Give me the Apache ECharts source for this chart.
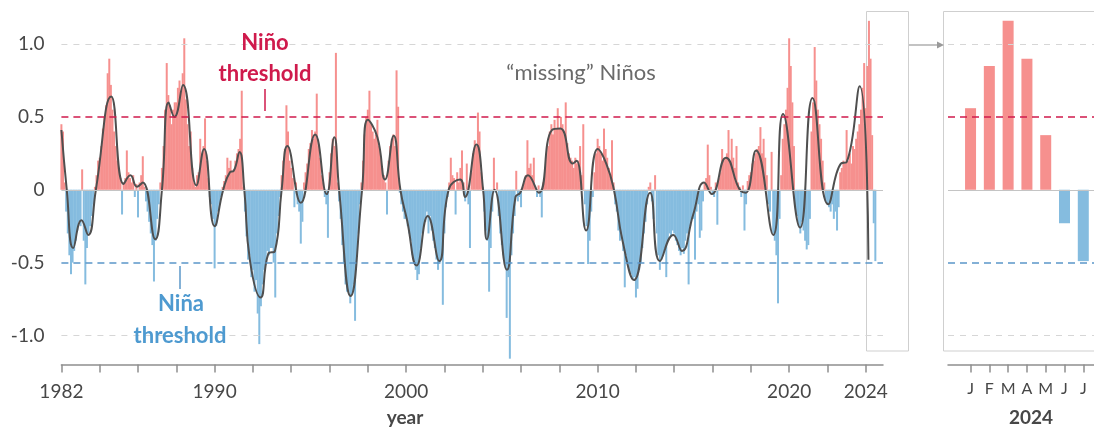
<!DOCTYPE html>
<html><head><meta charset="utf-8">
<script src="https://cdn.jsdelivr.net/npm/echarts@6/dist/echarts.min.js"></script>
<style>html,body{margin:0;padding:0;background:#fff}#c{width:1094px;height:428px}</style>
</head><body><div id="c"></div>
<script>
// ---- data ----
const firstYear = 1982;
// monthly index values, one row per year (Jan..Dec)
const monthlyValues = [
  [0.45, 0.40, 0.05, -0.15, -0.30, -0.45, -0.58, -0.50, -0.42, -0.35, -0.28, -0.22], // 1982
  [-0.25, 0.14, -0.35, -0.65, -0.40, -0.30, -0.25, -0.18, -0.10, 0.02, 0.10, 0.20],  // 1983
  [0.22, 0.30, 0.42, 0.50, 0.58, 0.80, 0.90, 0.72, 0.55, 0.40, 0.30, 0.20],          // 1984
  [0.15, 0.08, -0.17, 0.05, 0.08, 0.27, 0.12, 0.08, 0.05, 0.10, -0.05, 0.04],        // 1985
  [-0.19, 0.05, 0.10, 0.23, 0.02, -0.08, -0.15, -0.22, -0.30, -0.38, -0.63, -0.35],  // 1986
  [-0.20, -0.10, 0.05, 0.15, 0.30, 0.55, 0.87, 0.65, 0.58, 0.45, 0.55, 0.60],        // 1987
  [0.60, 0.70, 0.75, 0.68, 0.80, 1.04, 0.62, 0.45, 0.30, 0.40, 0.15, 0.05],          // 1988
  [0.02, 0.10, 0.12, 0.35, 0.25, 0.30, 0.49, 0.20, 0.08, -0.05, -0.10, -0.20],       // 1989
  [-0.54, -0.25, -0.15, -0.10, -0.05, 0.02, 0.06, 0.10, 0.22, 0.15, 0.20, 0.13],     // 1990
  [0.14, 0.20, 0.25, 0.28, 0.35, 0.68, 0.02, -0.15, -0.32, -0.48, -0.45, -0.60],     // 1991
  [-0.55, -0.70, -0.62, -0.85, -1.06, -0.80, -0.65, -0.55, -0.50, -0.42, -0.45, -0.40], // 1992
  [-0.40, -0.50, -0.74, -0.30, -0.18, -0.05, 0.10, 0.20, 0.28, 0.58, 0.40, 0.20],    // 1993
  [0.15, 0.08, -0.12, 0.05, -0.10, -0.15, -0.37, -0.22, 0.05, 0.12, 0.18, 0.28],     // 1994
  [0.32, 0.41, 0.35, 0.40, 0.66, 0.30, 0.22, 0.10, 0.05, -0.05, -0.10, -0.33],       // 1995
  [0.12, 0.25, 0.35, 0.30, 0.94, 0.05, -0.08, -0.20, -0.38, -0.50, -0.65, -0.70],    // 1996
  [-0.70, -0.78, -0.72, -0.65, -0.90, -0.45, -0.30, -0.10, 0.05, 0.20, 0.38, 0.50],  // 1997
  [0.55, 0.68, 0.45, 0.40, 0.35, 0.38, 0.48, 0.30, 0.22, 0.15, 0.10, 0.05],          // 1998
  [-0.17, 0.20, 0.30, 0.35, 0.38, 0.30, 0.82, 0.57, -0.02, -0.10, -0.15, -0.20],     // 1999
  [-0.20, -0.25, -0.30, -0.35, -0.45, -0.50, -0.55, -0.62, -0.58, -0.40, -0.30, -0.25], // 2000
  [-0.22, -0.15, -0.30, -0.18, -0.28, -0.35, -0.40, -0.48, -0.55, -0.50, -0.48, -0.79], // 2001
  [-0.30, -0.12, -0.05, 0.05, 0.22, 0.10, 0.08, -0.17, 0.12, 0.05, 0.15, 0.27],      // 2002
  [0.05, -0.08, 0.18, -0.10, -0.40, 0.12, 0.25, 0.34, 0.30, 0.53, 0.40, 0.12],       // 2003
  [0.02, -0.15, -0.28, -0.35, -0.70, -0.40, -0.15, 0.22, -0.02, 0.05, -0.18, -0.30], // 2004
  [-0.38, -0.45, -0.52, -0.88, -0.60, -1.16, -0.45, -0.30, -0.18, 0.13, -0.08, -0.05], // 2005
  [-0.12, 0.02, 0.05, 0.10, 0.34, 0.15, 0.18, 0.10, 0.22, 0.02, -0.05, 0.03],        // 2006
  [-0.05, -0.19, 0.05, 0.15, 0.25, 0.30, 0.40, 0.45, 0.38, 0.48, 0.42, 0.56],        // 2007
  [0.42, 0.50, 0.45, 0.38, 0.60, 0.32, 0.25, 0.22, 0.20, 0.15, 0.22, 0.18],          // 2008
  [0.20, 0.30, 0.10, 0.45, -0.10, -0.25, -0.51, -0.35, -0.15, -0.05, 0.12, 0.25],    // 2009
  [0.35, 0.30, 0.25, 0.20, 0.42, 0.28, 0.22, 0.15, 0.10, 0.34, 0.05, -0.10],         // 2010
  [-0.15, -0.28, -0.35, -0.30, -0.42, -0.67, -0.45, -0.50, -0.55, -0.58, -0.62, -0.60], // 2011
  [-0.74, -0.68, -0.55, -0.50, -0.40, -0.30, -0.22, -0.10, 0.02, 0.05, -0.08, -0.20], // 2012
  [0.10, -0.30, -0.45, -0.55, -0.48, -0.45, -0.40, -0.60, -0.35, -0.30, -0.32, -0.28], // 2013
  [-0.30, -0.35, -0.38, -0.42, -0.45, -0.40, -0.44, -0.35, -0.30, -0.65, -0.25, -0.20], // 2014
  [-0.20, -0.48, -0.15, -0.10, -0.33, -0.28, -0.08, 0.05, 0.08, 0.31, 0.10, 0.02],   // 2015
  [-0.03, -0.05, 0.05, -0.24, 0.08, 0.12, 0.28, 0.20, 0.22, 0.25, 0.41, 0.18],       // 2016
  [0.35, 0.22, 0.15, 0.30, 0.05, 0.02, -0.05, 0.03, -0.28, -0.10, 0.06, 0.10],       // 2017
  [0.12, 0.18, 0.20, 0.25, 0.28, 0.30, 0.43, 0.25, 0.35, 0.22, 0.10, -0.10],         // 2018
  [-0.15, 0.26, -0.30, -0.35, -0.45, -0.78, -0.20, 0.10, 0.35, 0.45, 0.55, 0.70],    // 2019
  [1.04, 0.85, 0.60, 0.30, -0.12, -0.18, -0.25, -0.30, -0.22, -0.28, -0.35, -0.41],  // 2020
  [-0.38, -0.20, 0.40, 0.60, 0.98, 0.75, 0.55, 0.45, 0.35, 0.20, 0.05, -0.08],       // 2021
  [-0.10, -0.12, -0.15, -0.10, -0.20, -0.15, -0.28, -0.12, 0.12, 0.15, 0.20, 0.18],  // 2022
  [0.41, 0.20, 0.25, 0.18, 0.30, 0.28, 0.35, 0.40, 0.45, 0.55, 0.70, 0.87],          // 2023
  [0.56, 0.85, 1.16, 0.90, 0.375, -0.23, -0.49]                                       // 2024
];
// smoothed index: [decimal year, value]
const smoothLine = [
  [1982.0,0.41],[1982.28,0.0],[1982.62,-0.40],[1983.05,-0.21],[1983.4,-0.31],[1983.8,0.0],
  [1984.6,0.64],[1985.25,0.04],[1985.6,0.10],[1985.95,0.02],[1986.25,0.05],[1986.9,-0.34],
  [1987.25,0.0],[1987.6,0.60],[1987.9,0.50],[1988.35,0.72],[1989.05,0.03],[1989.45,0.28],
  [1990.0,-0.25],[1990.45,0.0],[1990.8,0.12],[1991.0,0.13],[1991.3,0.26],[1991.55,0.0],
  [1991.85,-0.49],[1992.4,-0.74],[1992.8,-0.44],[1993.15,-0.42],[1993.5,0.0],[1993.8,0.30],
  [1994.5,-0.09],[1995.25,0.38],[1995.85,-0.03],[1996.25,0.36],[1996.5,0.0],[1997.1,-0.73],
  [1997.7,0.0],[1998.0,0.48],[1998.5,0.36],[1998.9,0.07],[1999.35,0.37],[1999.7,0.0],
  [2000.05,-0.21],[2000.55,-0.52],[2001.13,-0.18],[2001.73,-0.49],[2002.22,0.0],[2002.82,0.07],
  [2003.07,-0.05],[2003.67,0.31],[2004.02,0.0],[2004.22,-0.34],[2004.62,0.0],[2005.26,-0.55],
  [2005.71,-0.05],[2005.96,-0.02],[2006.36,0.10],[2006.93,-0.02],[2007.61,0.41],[2008.05,0.42],
  [2008.7,0.18],[2008.9,0.20],[2009.4,-0.28],[2010.0,0.28],[2010.45,0.18],[2010.85,0.0],
  [2011.3,-0.35],[2011.9,-0.62],[2012.74,-0.02],[2013.25,-0.49],[2013.95,-0.31],[2014.4,-0.42],
  [2014.99,-0.17],[2015.56,0.05],[2015.96,-0.03],[2016.7,0.22],[2017.48,-0.01],[2017.74,-0.02],
  [2018.27,0.27],[2019.17,-0.31],[2019.68,0.52],[2020.57,-0.26],[2021.22,0.63],[2022.04,-0.10],
  [2022.7,0.18],[2023.0,0.19],[2023.68,0.71],[2024.14,-0.48]
];
const tickYears = [1982,1984,1986,1988,1990,1992,1994,1996,1998,2000,2002,2004,2006,2008,2010,2012,2014,2016,2018,2020,2022,2024];
const labelYears = [1982,1990,2000,2010,2020,2024];
const yLabelValues = [-1, -0.5, 0, 0.5, 1];
const monthLetters = ['J','F','M','A','M','J','J','A','S','O','N','D'];
const monthNumbers = [1,2,3,4,5,6,7];
const insetYear = 2024;

// ---- styling ----
const FONT = 'Lato, "Open Sans", sans-serif';
const PINK = '#f6908e', BLUE = '#85bcdf';
const RED = '#cf1a4c', NBLUE = '#5b97c9';
const AXIS = '#8f8f8f', TXT = '#474747';

const mainBars = monthlyValues.flatMap((row, i) => row.map((v, m) => [firstYear + i + m / 12, v]));
const insetBars = monthlyValues[insetYear - firstYear].map((v, m) => [m + 1, v]);

function guideLines() {
  return {
    silent: true, symbol: 'none', label: { show: false }, animation: false,
    data: [
      { yAxis: 1, lineStyle: { color: '#d6d6d6', type: [6, 6], width: 1 } },
      { yAxis: 0.5, lineStyle: { color: RED, type: [7, 5], width: 1.6 } },
      { yAxis: 0, lineStyle: { color: '#c4c4c4', type: 'solid', width: 1 } },
      { yAxis: -0.5, lineStyle: { color: NBLUE, type: [7, 5], width: 1.6 } },
      { yAxis: -1, lineStyle: { color: '#d6d6d6', type: [6, 6], width: 1 } }
    ]
  };
}
const barColor = p => (p.value[1] >= 0 ? PINK : BLUE);

const chart = echarts.init(document.getElementById('c'), null, { renderer: 'canvas' });
chart.setOption({
  animation: false,
  backgroundColor: '#fff',
  grid: [
    { left: 61.4, width: 821.6, top: 15, height: 349.5 },
    { left: 948, right: 0, top: 15, height: 349.5 }
  ],
  xAxis: [
    {
      type: 'value', gridIndex: 0, min: 1982, max: 2024.9,
      axisLine: { show: true, onZero: false, lineStyle: { color: AXIS, width: 1.5 } },
      axisTick: { show: true, length: 8, customValues: tickYears, lineStyle: { color: AXIS, width: 1.5 } },
      axisLabel: { customValues: labelYears, margin: 18, fontSize: 19, color: TXT, fontFamily: FONT, formatter: v => String(v) },
      splitLine: { show: false }
    },
    {
      type: 'value', gridIndex: 1, min: -0.2, max: 7.57,
      axisLine: { show: true, onZero: false, lineStyle: { color: AXIS, width: 1.5 } },
      axisTick: { show: true, length: 8, customValues: monthNumbers, lineStyle: { color: AXIS, width: 1.5 } },
      axisLabel: { customValues: monthNumbers, margin: 16, fontSize: 16, color: TXT, fontFamily: FONT,
        formatter: v => monthLetters[Math.round(v) - 1] || '' },
      splitLine: { show: false }
    }
  ],
  yAxis: [
    {
      type: 'value', gridIndex: 0, min: -1.2, max: 1.2,
      axisLine: { show: false }, axisTick: { show: false }, splitLine: { show: false },
      axisLabel: { customValues: yLabelValues, margin: 17, fontSize: 19, color: TXT, fontFamily: FONT,
        formatter: v => (v === 0 ? '0' : v.toFixed(1)) }
    },
    {
      type: 'value', gridIndex: 1, min: -1.2, max: 1.2, show: false,
      splitLine: { show: false }
    }
  ],
  series: [
    {
      type: 'bar', xAxisIndex: 0, yAxisIndex: 0, data: mainBars, barWidth: 2,
      itemStyle: { color: barColor }, markLine: guideLines(), z: 2
    },
    {
      type: 'line', xAxisIndex: 0, yAxisIndex: 0, data: smoothLine, smooth: 0.5,
      showSymbol: false, symbol: 'none', lineStyle: { color: '#4f4f4f', width: 2 }, z: 4
    },
    {
      type: 'bar', xAxisIndex: 1, yAxisIndex: 1, data: insetBars, barWidth: 11,
      itemStyle: { color: barColor }, markLine: guideLines(), z: 2
    }
  ],
  graphic: [
    { type: 'rect', z: 1, shape: { x: 866.5, y: 11.5, width: 42, height: 339.5 }, style: { fill: 'none', stroke: '#cfcfcf', lineWidth: 1 } },
    { type: 'rect', z: 1, shape: { x: 943.5, y: 11.5, width: 200, height: 339.5 }, style: { fill: 'none', stroke: '#cfcfcf', lineWidth: 1 } },
    { type: 'line', z: 10, shape: { x1: 909, y1: 45, x2: 938, y2: 45 }, style: { stroke: '#9a9a9a', lineWidth: 1.2 } },
    { type: 'polygon', z: 10, shape: { points: [[937, 41.5], [944, 45], [937, 48.5]] }, style: { fill: '#9a9a9a' } },
    { type: 'text', z: 20, x: 265, y: 43, style: { text: 'Niño', font: 'bold 22px ' + FONT, fill: RED, align: 'center', verticalAlign: 'middle' } },
    { type: 'text', z: 20, x: 265, y: 74, style: { text: 'threshold', font: 'bold 22px ' + FONT, fill: RED, align: 'center', verticalAlign: 'middle' } },
    { type: 'line', z: 20, shape: { x1: 265, y1: 89, x2: 265, y2: 111 }, style: { stroke: RED, lineWidth: 1.5 } },
    { type: 'text', z: 20, x: 181, y: 304, style: { text: 'Niña', font: 'bold 22px ' + FONT, fill: '#4e9ad0', align: 'center', verticalAlign: 'middle' } },
    { type: 'text', z: 20, x: 180, y: 336, style: { text: 'threshold', font: 'bold 22px ' + FONT, fill: '#4e9ad0', align: 'center', verticalAlign: 'middle' } },
    { type: 'line', z: 20, shape: { x1: 180, y1: 266, x2: 180, y2: 289 }, style: { stroke: NBLUE, lineWidth: 1.5 } },
    { type: 'text', z: 20, x: 581, y: 73, style: { text: '\u201cmissing\u201d Niños', font: '22px ' + FONT, fill: '#6a6a6a', align: 'center', verticalAlign: 'middle' } },
    { type: 'text', z: 20, x: 405, y: 418, style: { text: 'year', font: 'bold 19px ' + FONT, fill: TXT, align: 'center', verticalAlign: 'middle' } },
    { type: 'text', z: 20, x: 1031, y: 418, style: { text: String(insetYear), font: 'bold 19px ' + FONT, fill: TXT, align: 'center', verticalAlign: 'middle' } }
  ]
});
</script>
</body></html>
